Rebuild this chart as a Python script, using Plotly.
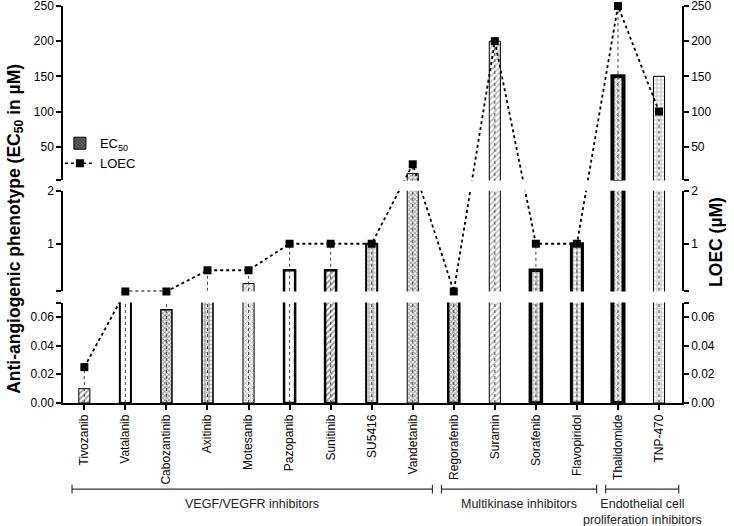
import plotly.graph_objects as go

# ---------------- data ----------------
drugs = ["Tivozanib", "Vatalanib", "Cabozantinib", "Axitinib", "Motesanib",
         "Pazopanib", "Sunitinib", "SU5416", "Vandetanib", "Regorafenib",
         "Suramin", "Sorafenib", "Flavopiridol", "Thalidomide", "TNP-470"]
ec50 = [0.01, 0.09, 0.065, 0.09, 0.25, 0.5, 0.5, 1, 12, 0.09, 200, 0.5, 1, 150, 150]
loec = [0.025, 0.1, 0.1, 0.5, 0.5, 1, 1, 1, 25, 0.1, 200, 1, 1, 250, 100]

groups = ["VEGF/VEGFR inhibitors", "Multikinase inhibitors",
          "Endothelial cell<br>proliferation inhibitors"]
group_first = ["Tivozanib", "Regorafenib", "Thalidomide"]
group_last = ["Vandetanib", "Flavopiridol", "TNP-470"]

# broken axis panels: top, middle, bottom
panel_ranges = [[2, 250], [0.1, 2], [0, 0.07]]
panel_tickvals = [[2, 50, 100, 150, 200, 250], [0.1, 1, 2], [0, 0.02, 0.04, 0.06, 0.07]]
panel_ticktext = [["", "50", "100", "150", "200", "250"], ["", "1", "2"],
                  ["0.00", "0.02", "0.04", "0.06", ""]]

# ---------------- styles ----------------
FONT = "Arial, Liberation Sans, Helvetica, sans-serif"
pat_shape = ["/", "", "x", "+", "x", "", "/", "+", "x", "x", "/", "+", "+", "x", "+"]
pat_size = [4, 4, 3, 4, 3, 4, 4, 4, 3, 3, 4, 4, 4, 3, 4]
pat_fg = ["#333", "#000", "#222", "#222", "#555", "#000", "#222", "#333", "#333",
          "#222", "#666", "#333", "#333", "#555", "#666"]
pat_sol = [0.4, 0.3, 0.5, 0.45, 0.45, 0.3, 0.4, 0.4, 0.5, 0.5, 0.35, 0.4, 0.4, 0.45, 0.35]
line_w = [1, 2, 1.5, 1.5, 1, 2.5, 2.5, 2, 1, 2.5, 1, 3.5, 3, 4, 1]
domains = [[0.5605, 1.0], [0.2809, 0.5348], [0.0, 0.2531]]
xrange_ = [-0.52, 14.56]


def broken_scale(v):
    """Position of a value on the continuous broken axis (panel ranges -> panel domains)."""
    for (lo, hi), (d0, d1) in zip(panel_ranges, domains):
        if lo <= v <= hi:
            return d0 + (v - lo) / (hi - lo) * (d1 - d0)
    return None


fig = go.Figure()

for p in range(3):
    xa = "x" if p == 0 else f"x{p+1}"
    ya = "y" if p == 0 else f"y{p+1}"
    ya_r = f"y{p+4}"
    ya_l = f"y{p+7}"
    lo, hi = panel_ranges[p]
    # bars (only those reaching into this panel)
    by = [v if v > lo else None for v in ec50]
    fig.add_trace(go.Bar(
        x=drugs, y=by, xaxis=xa, yaxis=ya, width=0.27, showlegend=False,
        marker=dict(color="white",
                    line=dict(color="black", width=line_w),
                    pattern=dict(shape=pat_shape, size=pat_size, fgcolor=pat_fg,
                                 solidity=pat_sol, fillmode="overlay"))))
    # drop lines from zero to LOEC
    dx, dy = [], []
    for d, v in zip(drugs, loec):
        dx += [d, d, None]
        dy += [0, v, None]
    fig.add_trace(go.Scatter(x=dx, y=dy, xaxis=xa, yaxis=ya, mode="lines",
                             line=dict(color="#444", width=1, dash="dot"),
                             showlegend=False, hoverinfo="skip"))
    # connecting LOEC line on the continuous broken scale
    fig.add_trace(go.Scatter(x=drugs, y=[broken_scale(v) for v in loec], xaxis=xa, yaxis=ya_l,
                             mode="lines", line=dict(color="black", width=1.8, dash="dot"),
                             showlegend=False, hoverinfo="skip"))
    # LOEC markers inside this panel (right axis)
    eps = (hi - lo) * 0.001
    my = [v if lo - eps <= v <= hi + eps else None for v in loec]
    fig.add_trace(go.Scatter(x=drugs, y=my, xaxis=xa, yaxis=ya_r, mode="markers",
                             marker=dict(symbol="square", size=8, color="black"),
                             cliponaxis=False, showlegend=False))

# legend entries
fig.add_trace(go.Bar(x=[None], y=[None], name="EC<sub>50</sub>",
                     marker=dict(color="#777", line=dict(color="black", width=1),
                                 pattern=dict(shape="x", size=3, fgcolor="#000",
                                              solidity=0.6, fillmode="overlay"))))
fig.add_trace(go.Scatter(x=[None], y=[None], name="LOEC", mode="lines+markers",
                         line=dict(color="black", width=1.5, dash="dot"),
                         marker=dict(symbol="square", size=8, color="black")))

axis_common = dict(showline=True, linecolor="black", linewidth=1.5, ticks="outside",
                   ticklen=5, tickwidth=1.5, tickcolor="black", showgrid=False,
                   zeroline=False, automargin=False, ticklabeloverflow="allow",
                   tickfont=dict(family=FONT, size=12, color="black"))

layout = dict(
    width=734, height=526, plot_bgcolor="white", paper_bgcolor="white",
    margin=dict(l=63, r=52, t=6, b=123, autoexpand=False), barmode="overlay",
    font=dict(family=FONT, size=12, color="black"),
    legend=dict(x=-0.005, y=0.692, xanchor="left", yanchor="top",
                font=dict(family=FONT, size=13), bgcolor="rgba(0,0,0,0)",
                tracegroupgap=2, itemwidth=30),
)

for p in range(3):
    sfx = "" if p == 0 else str(p + 1)
    layout["yaxis" + sfx] = dict(axis_common, domain=domains[p], range=panel_ranges[p],
                                 tickvals=panel_tickvals[p], ticktext=panel_ticktext[p],
                                 anchor="x" + sfx)
    layout["yaxis" + str(p + 4)] = dict(axis_common, domain=domains[p], range=panel_ranges[p],
                                        tickvals=panel_tickvals[p], ticktext=panel_ticktext[p],
                                        overlaying="y" + sfx, side="right", anchor="x" + sfx)
    layout["yaxis" + str(p + 7)] = dict(visible=False, domain=domains[p], range=domains[p],
                                        overlaying="y" + sfx, anchor="x" + sfx,
                                        automargin=False)
    if p < 2:
        layout["xaxis" + sfx] = dict(visible=False, type="category", categoryarray=drugs,
                                     range=xrange_, matches="x3", anchor="y" + sfx,
                                     automargin=False)
layout["xaxis3"] = dict(axis_common, type="category", categoryarray=drugs, range=xrange_,
                        anchor="y3", tickangle=-90)

fig.update_layout(**layout)

# group brackets
shapes = []
annotations = []
y_br = -0.217
for g, f, l in zip(groups, group_first, group_last):
    x0 = drugs.index(f) - 0.3
    x1 = drugs.index(l) + 0.48
    shapes.append(dict(type="line", xref="x3", yref="paper", x0=x0, x1=x1, y0=y_br, y1=y_br,
                       line=dict(color="#333", width=1.2)))
    for xe in (x0, x1):
        shapes.append(dict(type="line", xref="x3", yref="paper", x0=xe, x1=xe,
                           y0=y_br - 0.011, y1=y_br + 0.011, line=dict(color="#333", width=1.2)))
    annotations.append(dict(text=g, xref="x3", yref="paper", x=(x0 + x1) / 2, y=y_br - 0.014,
                            xanchor="center", yanchor="top", showarrow=False,
                            font=dict(family=FONT, size=12.5, color="#222")))

annotations.append(dict(text="<b>Anti-angiogenic phenotype (EC<sub>50</sub> in µM)</b>",
                        xref="paper", yref="paper", x=-0.077, y=0.4395, textangle=-90,
                        xanchor="center", yanchor="middle", showarrow=False,
                        font=dict(family=FONT, size=17.5, color="black")))
annotations.append(dict(text="<b>LOEC (µM)</b>", xref="paper", yref="paper", x=1.056,
                        y=0.405, textangle=-90, xanchor="center", yanchor="middle",
                        showarrow=False, font=dict(family=FONT, size=17.5, color="black")))

fig.update_layout(shapes=shapes, annotations=annotations)

fig.write_html("out.html", config={"displayModeBar": False},
               post_script="document.body.style.margin='0';document.body.style.padding='0';")
